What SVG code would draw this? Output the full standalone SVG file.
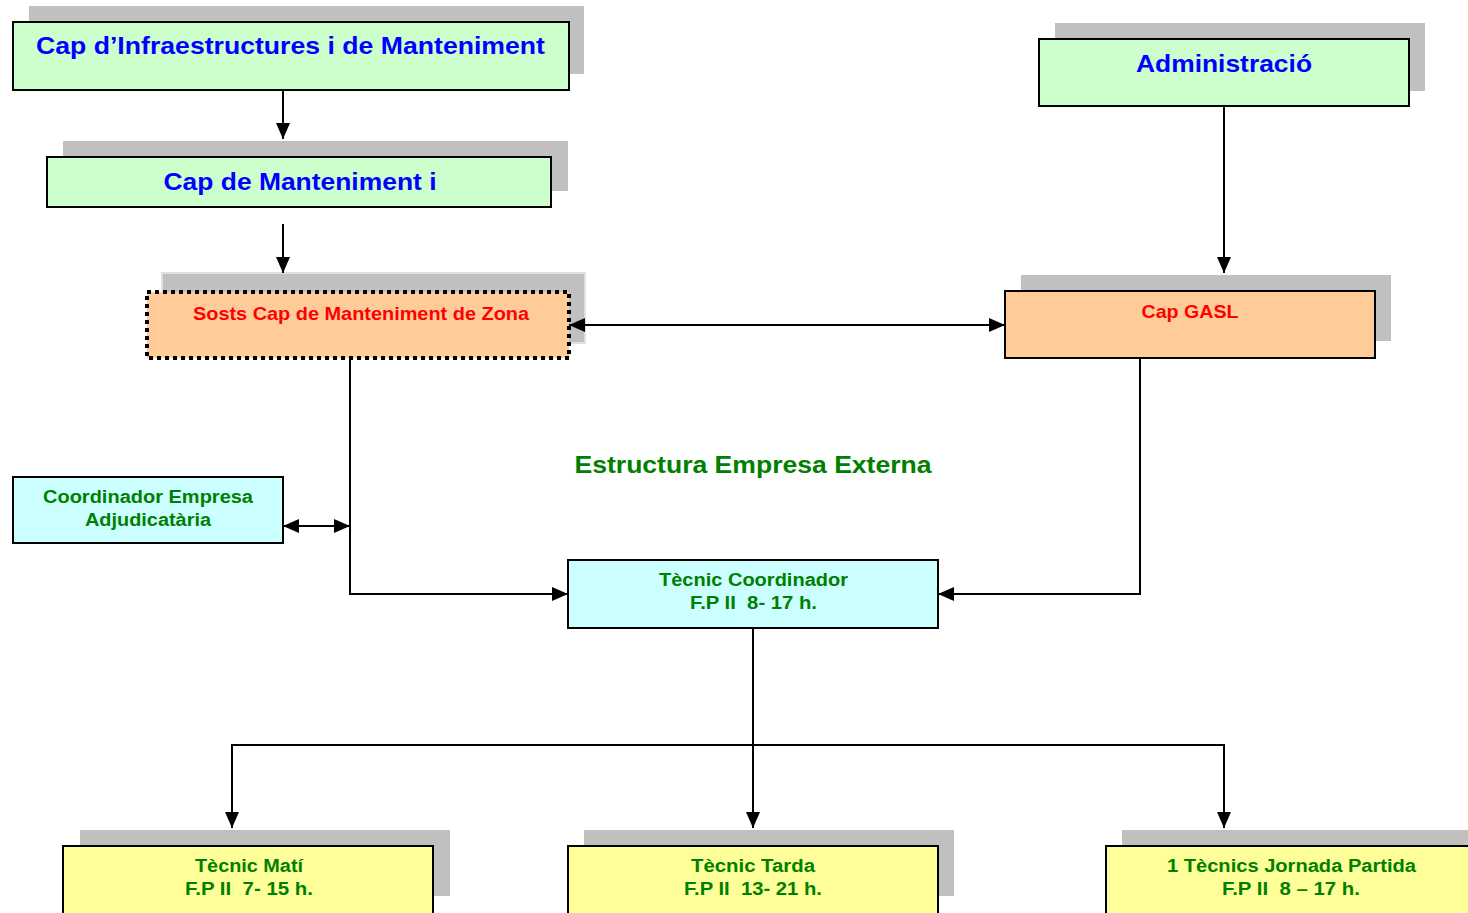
<svg xmlns="http://www.w3.org/2000/svg" width="1468" height="913" viewBox="0 0 1468 913">
<style>
.sh{fill:#C0C0C0}
.bx{stroke:#000;stroke-width:2}
.g{fill:#CCFFCC}.o{fill:#FFCC99}.c{fill:#CCFFFF}.y{fill:#FFFF99}
text{font-family:"Liberation Sans",Arial,sans-serif;font-weight:bold;text-anchor:middle;white-space:pre}
.tb{fill:#0000FF;font-size:24px}
.tr{fill:#FF0000;font-size:19px}
.tg{fill:#008000;font-size:18px}
.ln{fill:none;stroke:#000;stroke-width:2}
</style>
<defs>
<marker id="ah" viewBox="0 0 16 14" refX="16" refY="7" markerWidth="16" markerHeight="14" markerUnits="userSpaceOnUse" orient="auto-start-reverse"><path d="M0,0L16,7L0,14z" fill="#000"/></marker>
</defs>
<rect width="1468" height="913" fill="#fff"/>
<g id="n1"><rect class="sh" x="29" y="6" width="555" height="68"/><rect class="bx g" x="13" y="22" width="556" height="68"/><text class="tb" x="290.5" y="54" textLength="509" lengthAdjust="spacingAndGlyphs">Cap d’Infraestructures i de Manteniment</text></g>
<g id="n2"><rect class="sh" x="63" y="141" width="505" height="50"/><rect class="bx g" x="47" y="157" width="504" height="50"/><text class="tb" x="300" y="190" textLength="273" lengthAdjust="spacingAndGlyphs">Cap de Manteniment i</text></g>
<g id="n3"><rect class="sh" x="162" y="273" width="423" height="70" stroke="#e0e0e0" stroke-width="2"/><rect x="147" y="292" width="422" height="66" fill="#FFCC99" stroke="#000" stroke-width="4" stroke-dasharray="4 4"/><text class="tr" x="361" y="320" textLength="336" lengthAdjust="spacingAndGlyphs">Sosts Cap de Manteniment de Zona</text></g>
<g id="n4"><rect class="sh" x="1055" y="23" width="370" height="68"/><rect class="bx g" x="1039" y="39" width="370" height="67"/><text class="tb" x="1224" y="72" textLength="176" lengthAdjust="spacingAndGlyphs">Administració</text></g>
<g id="n5"><rect class="sh" x="1021" y="275" width="370" height="66"/><rect class="bx o" x="1005" y="291" width="370" height="67"/><text class="tr" x="1190" y="318" textLength="97" lengthAdjust="spacingAndGlyphs">Cap GASL</text></g>
<g id="n6"><text x="753" y="473" textLength="357" lengthAdjust="spacingAndGlyphs" style="fill:#008000;font-size:23px">Estructura Empresa Externa</text></g>
<g id="n7"><rect class="bx c" x="13" y="477" width="270" height="66"/><text class="tg" x="148" y="503" textLength="210" lengthAdjust="spacingAndGlyphs">Coordinador Empresa</text><text class="tg" x="148" y="526" textLength="126" lengthAdjust="spacingAndGlyphs">Adjudicatària</text></g>
<g id="n8"><rect class="bx c" x="568" y="560" width="370" height="68"/><text class="tg" x="753.5" y="586" textLength="189" lengthAdjust="spacingAndGlyphs">Tècnic Coordinador</text><text class="tg" x="753.5" y="609" textLength="127" lengthAdjust="spacingAndGlyphs">F.P II  8- 17 h.</text></g>
<g id="n9"><rect class="sh" x="80" y="830" width="370" height="66"/><rect class="bx y" x="63" y="846" width="370" height="70"/><text class="tg" x="249" y="872" textLength="108" lengthAdjust="spacingAndGlyphs">Tècnic Matí</text><text class="tg" x="249" y="895" textLength="128" lengthAdjust="spacingAndGlyphs">F.P II  7- 15 h.</text></g>
<g id="n10"><rect class="sh" x="584" y="830" width="370" height="66"/><rect class="bx y" x="568" y="846" width="370" height="70"/><text class="tg" x="753" y="872" textLength="124" lengthAdjust="spacingAndGlyphs">Tècnic Tarda</text><text class="tg" x="753" y="895" textLength="138" lengthAdjust="spacingAndGlyphs">F.P II  13- 21 h.</text></g>
<g id="n11"><rect class="sh" x="1122" y="830" width="370" height="66"/><rect class="bx y" x="1106" y="846" width="370" height="70"/><text class="tg" x="1291.5" y="872" textLength="249" lengthAdjust="spacingAndGlyphs">1 Tècnics Jornada Partida</text><text class="tg" x="1291" y="895" textLength="138" lengthAdjust="spacingAndGlyphs">F.P II  8 – 17 h.</text></g>
<g id="connectors">
<path class="ln" d="M283,90V139" marker-end="url(#ah)"/>
<path class="ln" d="M283,224V273" marker-end="url(#ah)"/>
<path class="ln" d="M1224,106V273" marker-end="url(#ah)"/>
<path class="ln" d="M569,325H1005" marker-start="url(#ah)" marker-end="url(#ah)"/>
<path class="ln" d="M350,358V594H568" marker-end="url(#ah)"/>
<path class="ln" d="M283,526H350" marker-start="url(#ah)" marker-end="url(#ah)"/>
<path class="ln" d="M1140,358V594H938" marker-end="url(#ah)"/>
<path class="ln" d="M753,628V828" marker-end="url(#ah)"/>
<path class="ln" d="M232,828V745H1224V828" marker-start="url(#ah)" marker-end="url(#ah)"/>
</g>
</svg>
